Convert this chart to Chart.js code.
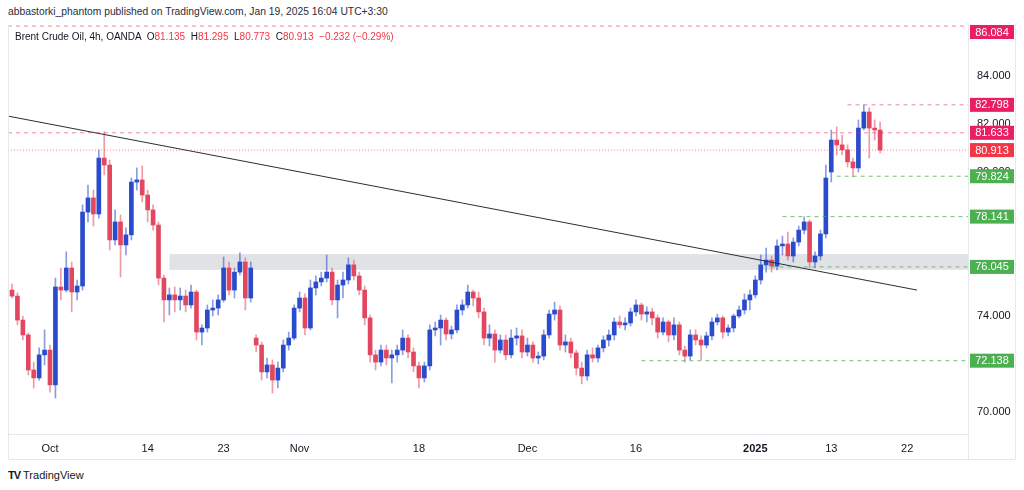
<!DOCTYPE html>
<html>
<head>
<meta charset="utf-8">
<script src="https://cdn.jsdelivr.net/npm/chart.js@4.4.1/dist/chart.umd.min.js"></script>
<style>
  body { margin: 0; background: #fff; width: 1024px; height: 490px; overflow: hidden;
         font-family: 'Liberation Sans', Arial, sans-serif; color: #131722; }
  #hdr { position: absolute; left: 8px; top: 6px; font-size: 10.3px; color: #2a2e39; }
  #legend { position: absolute; left: 15px; top: 31px; font-size: 10px; color: #131722; z-index: 2; white-space: pre; }
  #legend .r { color: #f23645; }
  #wrap { position: absolute; left: 8px; top: 25px; width: 1008px; height: 435px; }
  #foot { position: absolute; left: 8px; top: 469px; font-size: 11px; color: #131722; }
  #foot b { font-weight: 900; letter-spacing: -1px; margin-right: 3px; }
</style>
</head>
<body>
<div id="hdr">abbastorki_phantom published on TradingView.com, Jan 19, 2025 16:04 UTC+3:30</div>
<div id="legend">Brent Crude Oil, 4h, OANDA  O<span class="r">81.135</span>  H<span class="r">81.295</span>  L<span class="r">80.773</span>  C<span class="r">80.913</span>  <span class="r">−0.232 (−0.29%)</span></div>
<div id="wrap"><canvas id="myChart" width="1008" height="435"></canvas></div>
<div id="foot"><b>TV</b>TradingView</div>
<script>
// trading days shown on the time axis (weekends / holidays skipped)
const tradingDays = ['Sep 25','Sep 26','Sep 27','Sep 30','Oct 1','Oct 2','Oct 3','Oct 4','Oct 7','Oct 8','Oct 9','Oct 10','Oct 11',
  'Oct 14','Oct 15','Oct 16','Oct 17','Oct 18','Oct 21','Oct 22','Oct 23','Oct 24','Oct 25','Oct 28','Oct 29','Oct 30','Oct 31',
  'Nov 1','Nov 4','Nov 5','Nov 6','Nov 7','Nov 8','Nov 11','Nov 12','Nov 13','Nov 14','Nov 15','Nov 18','Nov 19','Nov 20','Nov 21','Nov 22',
  'Nov 25','Nov 26','Nov 27','Nov 28','Nov 29','Dec 2','Dec 3','Dec 4','Dec 5','Dec 6','Dec 9','Dec 10','Dec 11','Dec 12','Dec 13',
  'Dec 16','Dec 17','Dec 18','Dec 19','Dec 20','Dec 23','Dec 24','Dec 26','Dec 27','Dec 30','Dec 31','Jan 2','Jan 3',
  'Jan 6','Jan 7','Jan 8','Jan 9','Jan 10','Jan 13','Jan 14','Jan 15','Jan 16','Jan 17','Jan 20','Jan 21','Jan 22'];
const lastDay = 'Jan 17';

const tickDates  = ['Oct 1','Oct 14','Oct 23','Nov 1','Nov 18','Dec 2','Dec 16','Jan 2','Jan 13','Jan 22'];
const tickLabels = ['Oct','14','23','Nov','18','Dec','16','2025','13','22'];
const priceTicks = [70, 72, 74, 76, 78, 80, 82, 84];

// half-day candles, first one = second half of Sep 25
const opens = [
  75.08,74.83,73.83,73.21,71.75,71.42,72.38,72.58,71.13,75.21,
  75.08,76.00,75.00,75.25,78.33,78.92,78.25,80.58,80.29,77.17,
  77.92,76.96,77.38,79.58,79.67,79.04,78.42,77.79,75.58,74.67,
  74.88,74.67,74.83,74.46,75.00,73.33,73.50,74.25,74.33,74.67,
  76.00,75.08,75.83,76.25,74.75,73.08,72.79,71.67,71.96,71.33,
  71.83,72.79,73.08,74.33,74.75,73.50,75.17,75.42,75.58,75.83,
  74.67,75.29,75.50,76.13,75.67,75.08,73.92,72.38,72.08,72.58,
  72.25,72.38,72.58,73.08,72.50,71.92,71.42,71.92,73.42,73.50,
  73.83,73.25,73.42,74.25,74.46,75.00,74.75,74.17,73.08,73.25,
  72.58,73.00,72.38,73.08,73.17,72.50,72.79,72.25,72.33,73.21,
  74.08,74.25,72.79,72.92,72.46,71.83,71.50,72.38,72.25,72.67,
  73.00,73.21,73.75,73.63,73.71,74.17,74.46,74.08,74.17,73.92,
  73.33,73.75,73.21,73.63,72.58,72.33,73.21,73.00,72.79,73.17,
  73.75,73.92,73.33,73.50,74.00,74.25,74.67,74.88,75.50,76.13,
  76.33,76.08,76.92,77.00,76.50,77.08,77.58,77.92,76.25,76.50,
  77.42,80.00,81.33,81.13,80.92,80.42,80.17,81.83,82.50,81.83,
  81.75];
const highs = [
  75.33,74.96,74.00,73.29,72.08,72.67,73.42,72.79,75.58,76.00,
  76.67,76.25,75.50,78.63,79.46,79.25,80.92,81.67,80.50,78.42,
  78.21,77.67,79.75,80.17,80.25,79.25,78.63,77.92,75.71,75.17,
  75.21,75.17,75.08,75.29,75.08,73.63,74.46,74.67,74.88,76.46,
  76.25,76.00,76.63,76.42,76.25,73.21,72.92,72.25,72.17,72.08,
  73.00,73.33,74.46,75.00,74.92,75.50,75.67,75.83,76.54,76.00,
  75.50,75.83,76.42,76.33,75.83,75.25,74.04,72.58,72.79,72.79,
  72.58,72.79,73.42,73.21,72.67,72.08,72.08,73.63,73.75,74.04,
  73.92,73.58,74.46,74.67,75.29,75.08,75.00,74.33,73.63,73.42,
  73.21,73.21,73.42,73.50,73.42,73.08,72.92,72.50,73.42,74.25,
  74.58,74.42,73.21,73.08,72.58,72.08,72.58,72.67,72.79,73.17,
  73.42,73.92,74.00,73.92,74.33,74.67,74.54,74.38,74.33,74.04,
  73.92,73.83,73.92,73.75,72.75,73.42,73.42,73.17,73.33,73.92,
  74.08,74.00,73.63,74.08,74.42,74.92,75.08,75.67,76.54,76.83,
  76.50,77.17,77.33,77.50,77.25,77.75,78.13,78.00,76.67,77.58,
  80.29,81.75,81.88,81.54,81.13,80.58,82.17,82.798,82.67,82.17,
  82.08];
const lows = [
  74.75,73.63,73.00,71.54,71.00,71.33,71.96,70.83,70.58,74.67,
  75.00,74.17,74.67,75.08,77.92,77.75,78.08,79.88,76.75,76.96,
  75.63,76.54,77.17,79.25,78.75,77.92,77.58,75.29,73.75,74.04,
  74.17,74.25,74.17,74.33,73.00,72.79,73.33,74.00,74.04,74.58,
  74.88,74.75,75.71,74.25,74.58,72.50,71.33,71.42,70.79,71.00,
  71.67,72.58,73.00,74.17,73.21,73.42,74.88,75.25,75.42,74.46,
  73.92,74.75,75.33,75.50,74.88,73.63,72.08,71.75,71.92,71.96,
  71.21,72.08,72.38,72.25,71.67,71.00,71.25,71.75,73.17,72.79,
  73.00,73.04,73.29,74.04,74.33,74.42,73.92,72.79,72.75,72.08,
  72.46,72.17,72.25,72.79,72.25,72.33,72.08,72.00,72.17,73.08,
  73.83,72.58,72.50,72.25,71.54,71.17,71.33,72.08,72.08,72.50,
  72.75,73.00,73.50,73.42,73.58,74.00,73.83,73.75,73.63,73.08,
  73.21,72.92,73.00,72.38,72.08,72.17,72.79,72.17,72.67,73.00,
  73.63,73.08,73.17,73.33,73.92,74.08,74.25,74.75,75.33,75.83,
  75.83,75.92,76.54,76.33,76.25,76.92,77.42,76.00,76.00,76.33,
  77.25,79.58,80.71,80.71,80.21,79.79,80.00,81.75,80.58,81.33,
  80.79];
const closes = [
  74.83,73.83,73.21,71.75,71.42,72.38,72.58,71.13,75.21,75.08,
  76.00,75.00,75.25,78.33,78.92,78.25,80.58,80.29,77.17,77.92,
  76.96,77.38,79.58,79.67,79.04,78.42,77.79,75.58,74.67,74.88,
  74.67,74.83,74.46,75.00,73.33,73.50,74.25,74.33,74.67,76.00,
  75.08,75.83,76.25,74.75,76.00,72.79,71.67,71.96,71.33,71.83,
  72.79,73.08,74.33,74.75,73.50,75.17,75.42,75.58,75.83,74.67,
  75.29,75.50,76.13,75.67,75.08,73.92,72.38,72.08,72.58,72.25,
  72.38,72.58,73.08,72.50,71.92,71.42,71.92,73.42,73.50,73.83,
  73.25,73.42,74.25,74.46,75.00,74.75,74.17,73.08,73.25,72.58,
  73.00,72.38,73.08,73.17,72.50,72.79,72.25,72.33,73.21,74.08,
  74.25,72.79,72.92,72.46,71.83,71.50,72.38,72.25,72.67,73.00,
  73.21,73.75,73.63,73.71,74.17,74.46,74.08,74.17,73.92,73.33,
  73.75,73.21,73.63,72.58,72.33,73.21,73.00,72.79,73.17,73.75,
  73.92,73.33,73.50,74.00,74.25,74.67,74.88,75.50,76.13,76.33,
  76.08,76.92,77.00,76.50,77.08,77.58,77.92,76.25,76.50,77.42,
  79.75,81.33,81.13,80.92,80.42,80.17,81.83,82.50,81.83,81.75,
  80.913];

// horizontal levels drawn on the chart, with the day each one starts at (null = whole width)
const levelPrices = [86.084, 82.798, 81.633, 80.913, 79.824, 78.141, 76.045, 72.138];
const levelStart  = [null, 'Jan 14', null, null, 'Jan 13', 'Jan 6', 'Jan 3', 'Dec 16'];
const levelKind   = ['res', 'res', 'res', 'last', 'sup', 'sup', 'sup', 'sup'];

// descending trendline (touches the Oct 8 high) and grey resistance zone
const trendPrices = [82.33, 75.08];
const trendDays   = ['Sep 25', 'Jan 22'];
const zonePrices  = [75.92, 76.58];
const zoneStart   = 'Oct 16';

const UP = '#2a4bcb', DOWN = '#e2475f';
const kindColor = { res: '#e91e63', last: '#f23645', sup: '#4caf50' };
const kindLine  = { res: 'rgba(233,30,99,0.55)', last: 'rgba(242,54,69,0.6)', sup: 'rgba(76,175,80,0.75)' };

const dayIdx = d => tradingDays.indexOf(d);

// candle x positions: two sessions per day, first day only its second half
const barX = [];
tradingDays.slice(0, dayIdx(lastDay) + 1).forEach((d, k) => {
  if (k > 0) barX.push(k);
  barX.push(k + 0.5);
});

const xMin = 0.13, xMax = 88.6, yMin = 69.083, yMax = 86.125;

const bodies = barX.map((x, i) => ({ x: x, y: [opens[i], closes[i]], up: closes[i] >= opens[i] }));
const wicks  = barX.map((x, i) => ({ x: x, y: [lows[i], highs[i]], up: closes[i] >= opens[i] }));

const levelSets = levelPrices.map((p, i) => ({
  type: 'line',
  data: [{ x: levelStart[i] ? dayIdx(levelStart[i]) + 0.5 : xMin, y: p }, { x: xMax, y: p }],
  borderColor: kindLine[levelKind[i]],
  borderWidth: 1,
  borderDash: levelKind[i] === 'last' ? [1, 2] : [4, 4],
  pointRadius: 0,
  order: 0
}));

const ctx = document.getElementById('myChart');

const overlay = {
  id: 'overlay',
  beforeDatasetsDraw(chart) {
    const { ctx, chartArea: a, scales: { x, y } } = chart;
    const x0 = x.getPixelForValue(dayIdx(zoneStart));
    const y0 = y.getPixelForValue(zonePrices[1]), y1 = y.getPixelForValue(zonePrices[0]);
    ctx.save();
    ctx.fillStyle = 'rgba(205,207,212,0.6)';
    ctx.fillRect(x0, y0, a.right - x0, y1 - y0);
    ctx.restore();
  },
  afterDraw(chart) {
    const { ctx, chartArea: a, scales: { y }, width, height } = chart;
    ctx.save();
    // pane borders
    ctx.strokeStyle = '#e6e8ee';
    ctx.lineWidth = 1;
    ctx.beginPath();
    ctx.moveTo(0.5, 0); ctx.lineTo(0.5, height - 0.5);
    ctx.lineTo(width - 0.5, height - 0.5); ctx.lineTo(width - 0.5, 0);
    ctx.moveTo(a.right + 0.5, a.bottom); ctx.lineTo(a.right + 0.5, height);
    ctx.stroke();
    // price labels on the axis
    ctx.font = '11px "Liberation Sans", Arial, sans-serif';
    ctx.textAlign = 'center';
    ctx.textBaseline = 'middle';
    levelPrices.forEach((p, i) => {
      const cy = Math.max(y.getPixelForValue(p), a.top + 7);
      ctx.fillStyle = kindColor[levelKind[i]];
      ctx.fillRect(a.right + 2, cy - 7, 44, 14);
      ctx.fillStyle = '#fff';
      ctx.fillText(p.toFixed(3), a.right + 24, cy + 0.5);
    });
    ctx.restore();
  }
};

new Chart(ctx, {
  type: 'bar',
  data: {
    datasets: [
      ...levelSets,
      {
        type: 'line',
        data: trendDays.map((d, i) => ({ x: i === 0 ? xMin : dayIdx(d) + 0.9, y: trendPrices[i] })),
        borderColor: '#2a2e39',
        borderWidth: 1,
        pointRadius: 0,
        order: 0
      },
      {
        data: bodies,
        grouped: false,
        barThickness: 4,
        minBarLength: 1,
        borderWidth: 0,
        borderSkipped: false,
        backgroundColor: c => (c.raw && c.raw.up ? UP : DOWN),
        order: 2
      },
      {
        data: wicks,
        grouped: false,
        barThickness: 1,
        borderWidth: 0,
        borderSkipped: false,
        backgroundColor: c => (c.raw && c.raw.up ? 'rgba(42,75,203,0.55)' : 'rgba(226,71,95,0.55)'),
        order: 3
      }
    ]
  },
  options: {
    responsive: false,
    animation: false,
    layout: { padding: 0 },
    plugins: { legend: { display: false }, tooltip: { enabled: false } },
    scales: {
      x: {
        type: 'linear',
        min: xMin,
        max: xMax,
        offset: false,
        grid: { display: false, drawTicks: false },
        border: { display: true, color: '#e6e8ee' },
        afterBuildTicks: s => { s.ticks = tickDates.map(d => ({ value: dayIdx(d) })); },
        afterFit: s => { s.height = 26; s.paddingLeft = 0; s.paddingRight = 0; },
        ticks: {
          autoSkip: false,
          maxRotation: 0,
          padding: 8,
          color: '#131722',
          font: c => ({ size: 11, weight: c.tick && c.tick.value === dayIdx('Jan 2') ? 'bold' : 'normal' }),
          callback: (v, i) => tickLabels[i]
        }
      },
      y: {
        type: 'linear',
        position: 'right',
        min: yMin,
        max: yMax,
        grid: { display: false, drawTicks: false },
        border: { display: true, color: '#e6e8ee' },
        afterBuildTicks: s => { s.ticks = priceTicks.map(v => ({ value: v })); },
        afterFit: s => { s.width = 48; s.paddingTop = 0; s.paddingBottom = 0; },
        ticks: {
          padding: 9,
          color: '#131722',
          font: { size: 11 },
          callback: v => v.toFixed(3)
        }
      }
    }
  },
  plugins: [overlay]
});
</script>
</body>
</html>
